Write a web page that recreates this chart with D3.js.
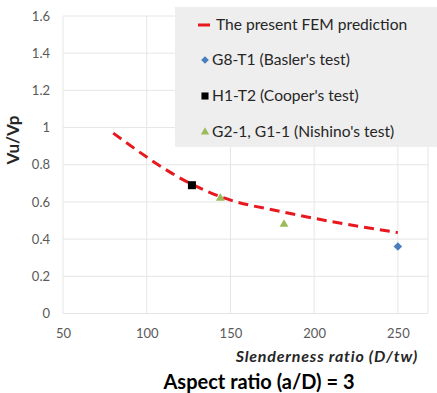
<!DOCTYPE html>
<html>
<head>
<meta charset="utf-8">
<script src="https://cdn.jsdelivr.net/npm/d3@7"></script>
<style>
  body { margin: 0; background: #fff; }
  text { font-family: Lato, "Open Sans", sans-serif; }
</style>
</head>
<body>
<div id="chart"></div>
<script>
// data
const femX = [80, 127, 145, 182, 250];
const femY = [0.97, 0.695, 0.625, 0.545, 0.435];
const baslerX = [250];
const baslerY = [0.36];
const cooperX = [127];
const cooperY = [0.69];
const nishinoX = [144, 182];
const nishinoY = [0.62, 0.48];
const xTicks = [50, 100, 150, 200, 250];
const yTicks = [0, 0.2, 0.4, 0.6, 0.8, 1, 1.2, 1.4, 1.6];
const legendLabels = ["The present FEM prediction", "G8-T1 (Basler's test)", "H1-T2 (Cooper's test)", "G2-1, G1-1 (Nishino's test)"];

const width = 437, height = 393;
const plotLeft = 63, plotTop = 16, plotRight = 428, plotBottom = 313.5;

const svg = d3.select('#chart').append('svg')
  .attr('width', width)
  .attr('height', height);

let x = d3.scaleLinear().domain([50, 268]).range([plotLeft, plotRight]);
let y = d3.scaleLinear().domain([0, 1.6]).range([plotBottom, plotTop]);

// grid
let grid = svg.append('g').attr('stroke', '#e6e6e6').attr('stroke-width', 1);
grid.selectAll('.hg').data(yTicks).enter().append('line')
  .attr('x1', plotLeft).attr('x2', plotRight)
  .attr('y1', d => y(d)).attr('y2', d => y(d));
grid.selectAll('.vg').data(xTicks).enter().append('line')
  .attr('y1', plotTop).attr('y2', plotBottom)
  .attr('x1', d => x(d)).attr('x2', d => x(d));
grid.append('line').attr('x1', plotRight).attr('x2', plotRight).attr('y1', plotTop).attr('y2', plotBottom);

// axes (labels only, Excel style)
let xAxis = svg.append('g')
  .attr('transform', 'translate(0,' + plotBottom + ')')
  .call(d3.axisBottom(x).tickValues(xTicks).tickSize(0).tickPadding(15));
xAxis.select('.domain').remove();
xAxis.selectAll('text').attr('fill', '#595959').attr('font-size', 13).style('font-family', 'Lato');

let yAxis = svg.append('g')
  .attr('transform', 'translate(' + plotLeft + ',0)')
  .call(d3.axisLeft(y).tickValues(yTicks).tickSize(0).tickPadding(13).tickFormat(d3.format('~g')));
yAxis.select('.domain').remove();
yAxis.selectAll('text').attr('fill', '#595959').attr('font-size', 13).style('font-family', 'Lato');

// FEM line
let fem = femX.map((d, i) => [d, femY[i]]);
svg.append('path')
  .datum(fem)
  .attr('fill', 'none')
  .attr('stroke', '#e8191e')
  .attr('stroke-width', 3)
  .attr('stroke-dasharray', '10,6')
  .attr('d', d3.line().x(d => x(d[0])).y(d => y(d[1])).curve(d3.curveMonotoneX));

// markers
let diamond = d3.symbol().type(d3.symbolSquare).size(36);
let square = d3.symbol().type(d3.symbolSquare).size(64);
let triangle = d3.symbol().type(d3.symbolTriangle).size(34);

svg.selectAll('.basler').data(baslerX).enter().append('path')
  .attr('d', diamond).attr('fill', '#4a7ebb')
  .attr('transform', (d, i) => 'translate(' + x(d) + ',' + y(baslerY[i]) + ') rotate(45)');
svg.selectAll('.cooper').data(cooperX).enter().append('path')
  .attr('d', square).attr('fill', '#000')
  .attr('transform', (d, i) => 'translate(' + x(d) + ',' + y(cooperY[i]) + ')');
svg.selectAll('.nishino').data(nishinoX).enter().append('path')
  .attr('d', triangle).attr('fill', '#9bbb59')
  .attr('transform', (d, i) => 'translate(' + x(d) + ',' + y(nishinoY[i]) + ')');

// legend
let lg = svg.append('g');
lg.append('rect').attr('x', 175).attr('y', 7).attr('width', 262).attr('height', 140).attr('fill', '#eeeeee');
let rowY = [25, 60, 96, 132];
lg.append('line').attr('x1', 198).attr('x2', 210).attr('y1', rowY[0]).attr('y2', rowY[0])
  .attr('stroke', '#e8191e').attr('stroke-width', 3);
lg.append('path').attr('d', d3.symbol().type(d3.symbolSquare).size(30)).attr('fill', '#4a7ebb')
  .attr('transform', 'translate(205,' + rowY[1] + ') rotate(45)');
lg.append('path').attr('d', d3.symbol().type(d3.symbolSquare).size(50)).attr('fill', '#000')
  .attr('transform', 'translate(205,' + rowY[2] + ')');
lg.append('path').attr('d', d3.symbol().type(d3.symbolTriangle).size(30)).attr('fill', '#9bbb59')
  .attr('transform', 'translate(205,' + rowY[3] + ')');
let textX = [216, 212, 212, 212];
lg.selectAll('.lt').data(legendLabels).enter().append('text')
  .attr('x', (d, i) => textX[i])
  .attr('y', (d, i) => rowY[i])
  .attr('dy', '0.35em')
  .attr('font-size', 15.6)
  .attr('fill', '#262626')
  .text(d => d);

// titles
svg.append('text')
  .attr('transform', 'translate(19,140) rotate(-90)')
  .attr('text-anchor', 'middle')
  .attr('font-size', 17).attr('font-weight', 'bold').attr('fill', '#262626')
  .text('Vu/Vp');
svg.append('text')
  .attr('x', 418).attr('y', 362)
  .attr('text-anchor', 'end')
  .attr('font-size', 16).attr('font-weight', 'bold').attr('font-style', 'italic')
  .attr('letter-spacing', 0.8).attr('fill', '#262626')
  .text('Slenderness ratio (D/tw)');
svg.append('text')
  .attr('x', 259).attr('y', 389)
  .attr('text-anchor', 'middle')
  .attr('font-size', 20).attr('font-weight', 'bold').attr('fill', '#000')
  .text('Aspect ratio (a/D) = 3');
</script>
</body>
</html>
